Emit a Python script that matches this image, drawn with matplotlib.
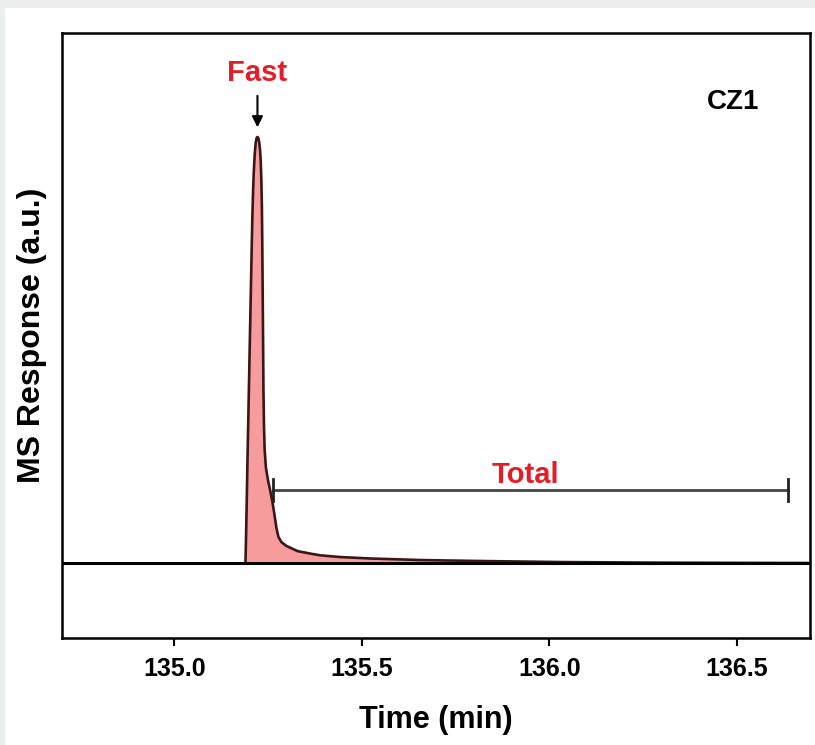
import numpy as np
import matplotlib
matplotlib.use('Agg')
import matplotlib.pyplot as plt
from matplotlib.patches import Rectangle

plt.rcParams['font.family'] = ['Liberation Sans', 'DejaVu Sans']
plt.rcParams['font.weight'] = 'bold'

# elution profile of CZ1 (time in min, response in a.u., apex = 100)
time = [135.1893, 135.1907, 135.1928, 135.1952, 135.1979, 135.2005, 135.2032,
        135.2053, 135.2075, 135.2093, 135.2115, 135.2139, 135.2165, 135.2192,
        135.2213, 135.2235, 135.2259, 135.2283, 135.2301, 135.2317, 135.2331,
        135.2341, 135.2352, 135.2363, 135.2373, 135.2387, 135.2405, 135.2440,
        135.2493, 135.2560, 135.2613, 135.2667, 135.2720, 135.2773, 135.2853,
        135.2987, 135.3280, 135.3627, 135.3893, 135.4427, 135.5227, 135.6560,
        135.8160, 136.0293, 136.2693, 136.5360, 136.6960]
response = [0, 5.4, 14.8, 26.5, 38.3, 50.0, 61.7,
            71.1, 80.5, 86.4, 91.8, 95.8, 98.6, 99.8,
            100, 99.8, 98.8, 96.9, 94.1, 89.9, 83.9,
            75.8, 64.1, 52.3, 40.6, 32.4, 26.5, 22.3,
            19.5, 16.7, 14.3, 11.3, 8.2, 6.1, 4.9,
            4.0, 2.8, 2.2, 1.8, 1.4, 1.06, 0.70,
            0.47, 0.23, 0.09, 0.02, 0]

xticks = [135.0, 135.5, 136.0, 136.5]
fast_time = 135.2213
total_range = [135.264, 136.635]
total_level = 17.1

fig = plt.figure(figsize=(8.15, 7.45), dpi=100, facecolor='white')
# thin grey frame on the top and left edges
fig.patches.append(Rectangle((0, 1 - 8 / 745), 1, 8 / 745, transform=fig.transFigure,
                             facecolor='#eceeed', edgecolor='none', zorder=-10))
fig.patches.append(Rectangle((0, 0), 5 / 815, 1, transform=fig.transFigure,
                             facecolor='#eceeed', edgecolor='none', zorder=-10))
ax = fig.add_axes([62 / 815, 1 - 638 / 745, 748 / 815, 605 / 745])
ax.set_facecolor('white')

ax.set_xlim(134.70, 136.695)
ax.set_ylim(-17.6, 124.4)

ax.fill_between(time, 0, response, color='#f79c9c', lw=0, zorder=2)
ax.plot(time, response, color='#3b1616', lw=1.9, zorder=3, solid_joinstyle='round')
ax.axhline(0, color='black', lw=2.2, zorder=4)

# total integration window
ax.plot(total_range, [total_level, total_level], color='#444444', lw=2)
for t in total_range:
    ax.plot([t, t], [total_level - 2.6, total_level + 2.6], color='#222222', lw=2)
ax.text(135.936, 20.7, 'Total', color='#e41e26',
        fontsize=21, ha='center', va='center', fontweight='bold')

# apex marker
ax.annotate('', xy=(fast_time, 101.6), xytext=(fast_time, 110.3),
            arrowprops=dict(arrowstyle='-|>', color='black', lw=1.5, mutation_scale=16))
ax.text(fast_time, 115.0, 'Fast', color='#e41e26', fontsize=21,
        ha='center', va='center', fontweight='bold')
ax.text(136.49, 108.3, 'CZ1', color='black', fontsize=20,
        ha='center', va='center', fontweight='bold')

for s in ax.spines.values():
    s.set_linewidth(1.8)
ax.set_xticks(xticks)
ax.set_xticklabels([f'{t:.1f}' for t in xticks])
ax.set_yticks([])
ax.tick_params(axis='x', direction='out', length=6, width=1.5, labelsize=18, pad=8)
ax.set_xlabel('Time (min)', fontsize=22, fontweight='bold', labelpad=17)
ax.set_ylabel('MS Response (a.u.)', fontsize=23, fontweight='bold', labelpad=11)

fig.savefig('out.png', dpi=100, facecolor=fig.get_facecolor())
